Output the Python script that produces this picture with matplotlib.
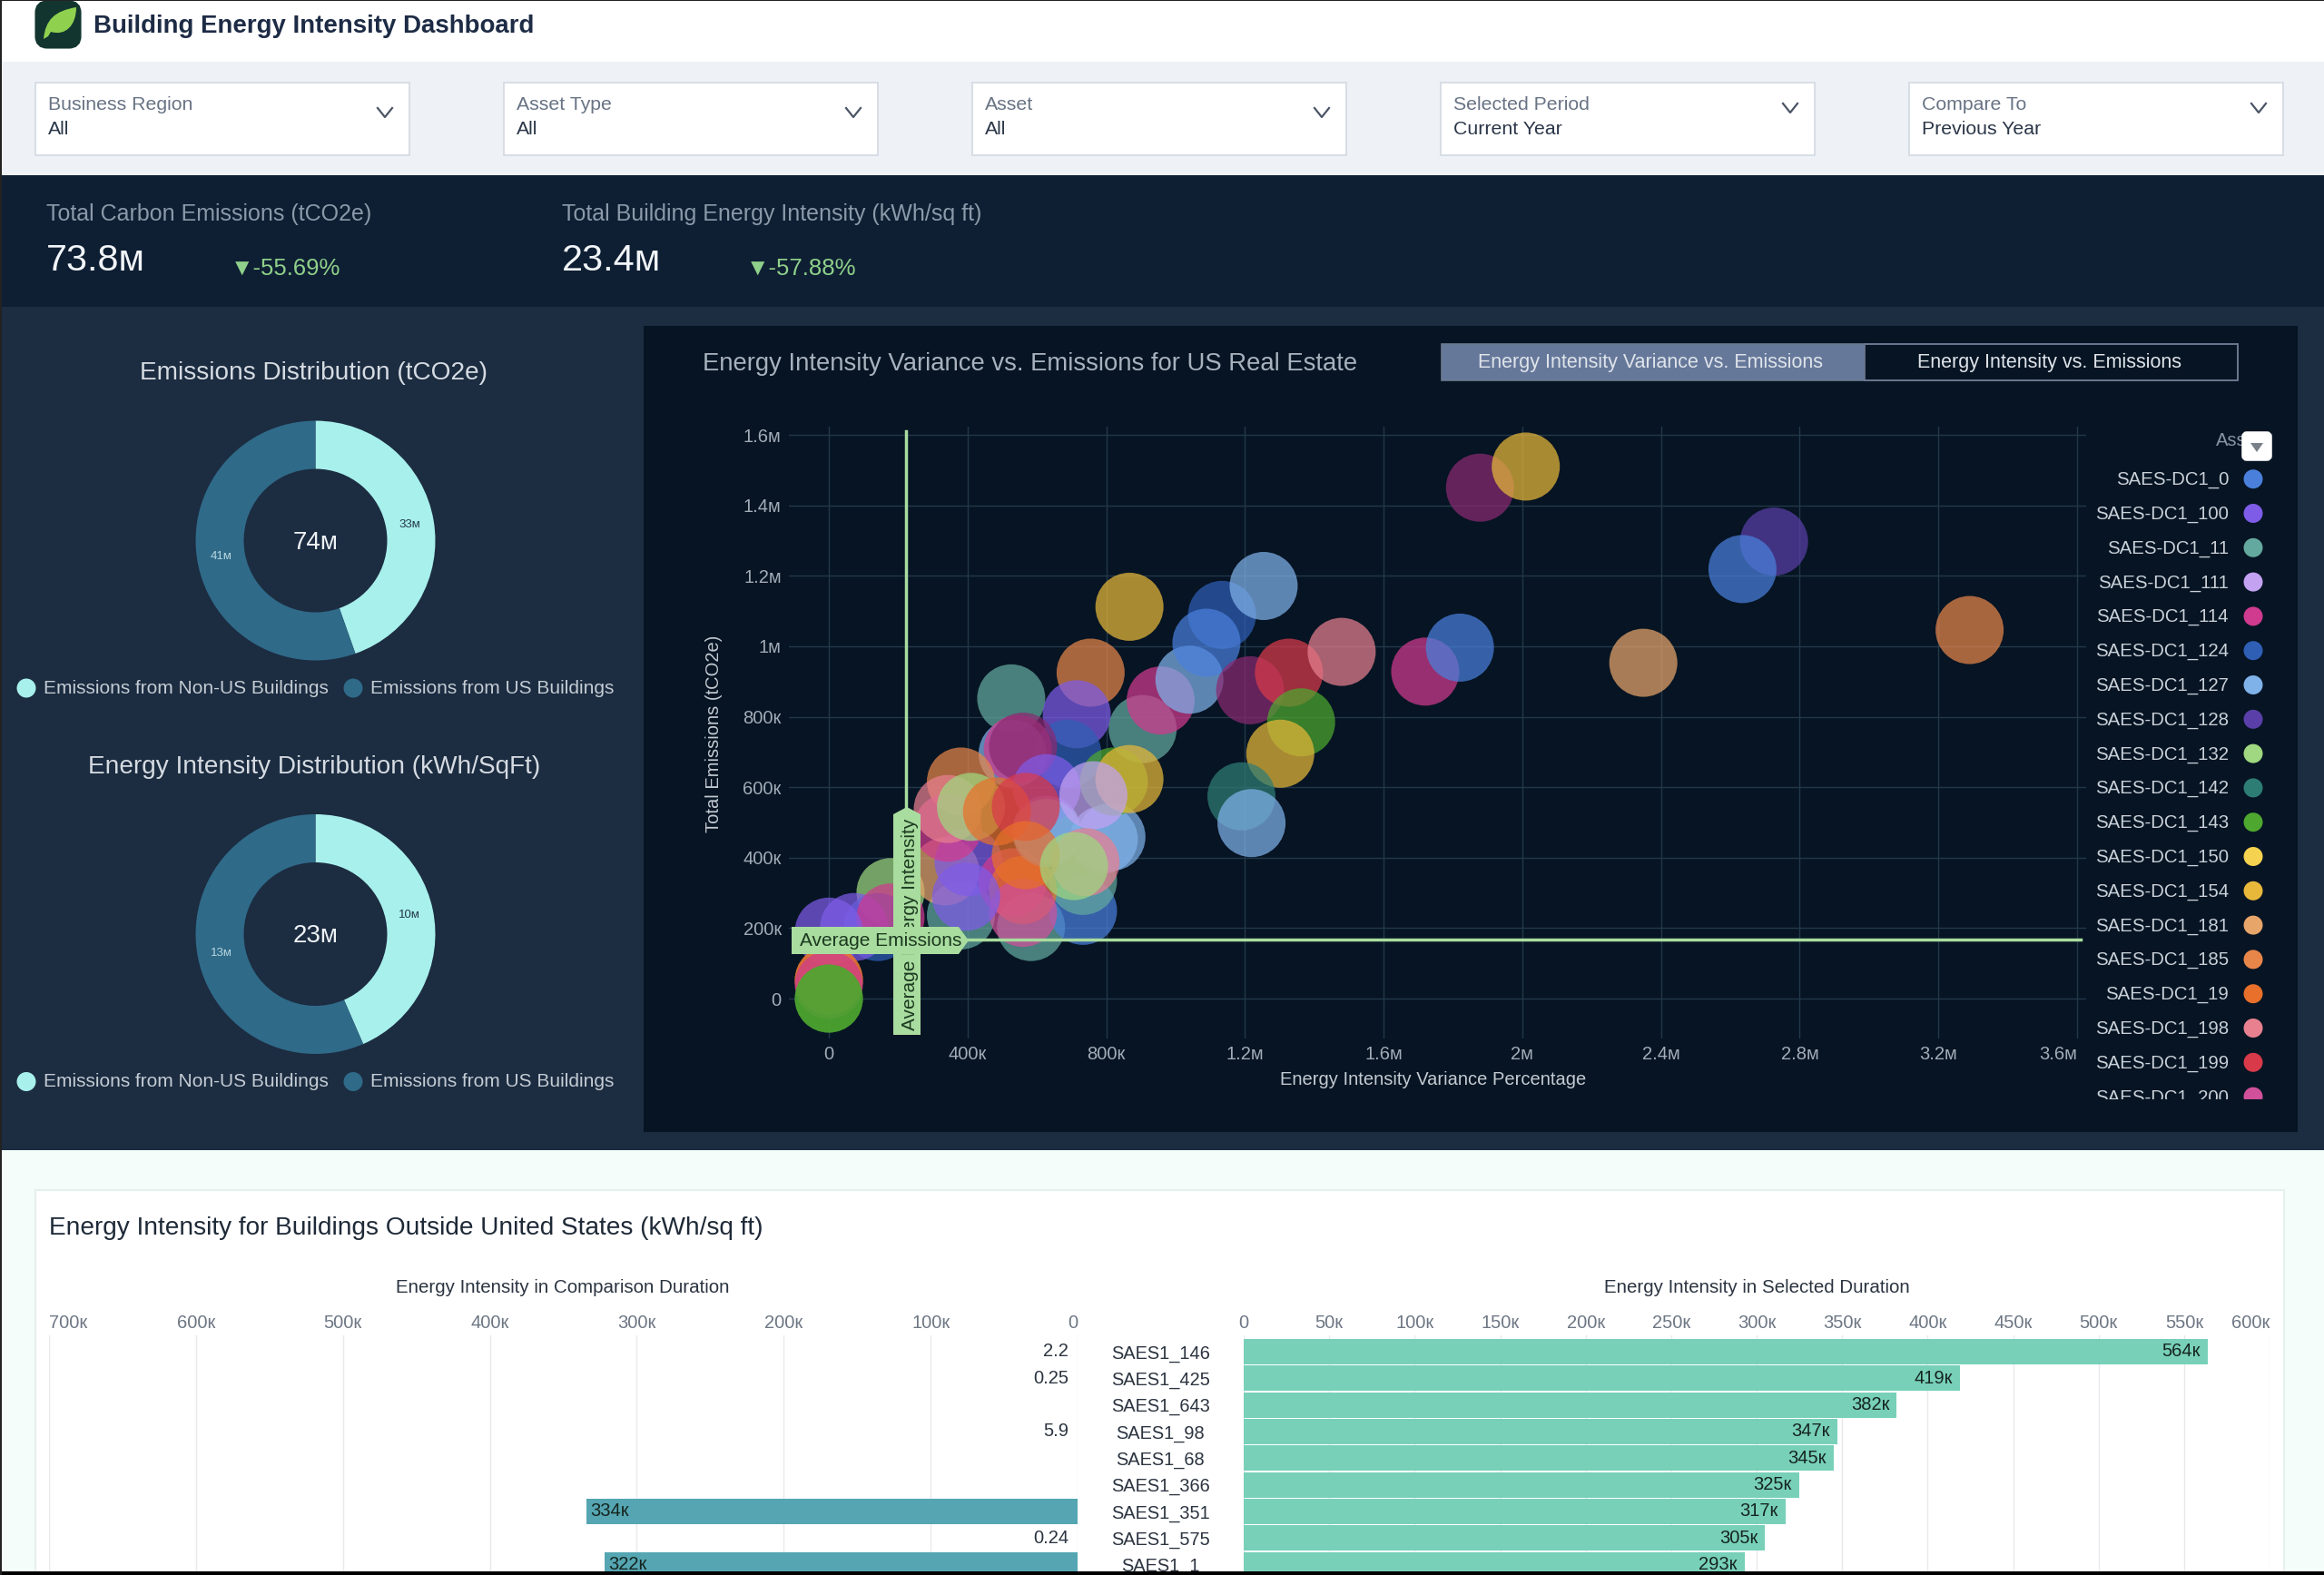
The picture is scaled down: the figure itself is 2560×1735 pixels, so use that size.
import matplotlib
matplotlib.use("Agg")
import matplotlib.pyplot as plt
from matplotlib.patches import Rectangle, Circle, FancyBboxPatch, Polygon, PathPatch
from matplotlib.path import Path
from matplotlib.ticker import FixedLocator, FixedFormatter

plt.rcParams['font.family'] = ['Liberation Sans', 'DejaVu Sans']

W, H = 2560, 1735

# ---------- data ----------
legend_assets = ['SAES-DC1_0', 'SAES-DC1_100', 'SAES-DC1_11', 'SAES-DC1_111', 'SAES-DC1_114',
                 'SAES-DC1_124', 'SAES-DC1_127', 'SAES-DC1_128', 'SAES-DC1_132', 'SAES-DC1_142',
                 'SAES-DC1_143', 'SAES-DC1_150', 'SAES-DC1_154', 'SAES-DC1_181', 'SAES-DC1_185',
                 'SAES-DC1_19', 'SAES-DC1_198', 'SAES-DC1_199', 'SAES-DC1_200']
legend_colors = ['#4a80dc', '#7e5ce8', '#64a99f', '#c3a2f2', '#d03a8f',
                 '#2f5fb5', '#80b2ea', '#5a3fa8', '#9fd880', '#2e7d74',
                 '#4ea82f', '#f5d24f', '#e8b83a', '#e8a56a', '#e8864a',
                 '#e8702a', '#e88090', '#d93a4a', '#d0509a']
below_fold_color = '#8a2a72'   # an asset further down the scrolled legend

bubble_asset = [11, 0, 11, 132, 124, 100, 114, 100, 11,
                127, 127, 181, 100, 114, 19, 200,
                11, 185, 100, 124, 127, 114, 'x', 11, 114, 127, 124, 0, 127, 127,
                143, 154, 100, 185, 114, 198, 132, 127, 19, 199, 111, 198, 19, 132, 100,
                'x', 199, 198, 143, 154, 142, 127, 114, 0, 154, 185, 128, 0, 'x', 154,
                181, 185, 19, 114, 143, 143]
bubble_x = [.583, .733, .381, .178, .141, .073, .178, 0, .733,
            .815, .793, .336, .403, .530, .560, .560,
            .526, .755, .715, .688, .530, .545, .560, .905, .957, 1.040, 1.134, 1.089, 1.254,
            .628, .822, .867, .628, .381, .343, .343, .410, .628, .485, .568, .763, .740, .568, .707, .396,
            1.215, 1.327, 1.479, 1.362, 1.302, 1.190, 1.219, 1.720, 1.820, .867, 3.290, 2.726, 2.635, 1.878, 2.010,
            2.349, 0, 0, 0, 0, 0]
bubble_y = [.203, .249, .236, .302, .203, .203, .230, .190, .334,
            .459, .452, .361, .387, .330, .308, .243,
            .852, .925, .807, .695, .695, .708, .715, .765, .846, .905, 1.089, 1.010, 1.171,
            .479, .616, .623, .597, .616, .485, .538, .544, .470, .531, .544, .577, .387, .407, .376, .289,
            .875, .925, .984, .784, .695, .574, .498, .928, .996, 1.112, 1.046, 1.297, 1.219, 1.450, 1.510,
            .953, .052, .052, .039, 0, 0]
avg_variance = 0.223e6
avg_emissions = 0.1666e6

x_ticks = [0, 400e3, 800e3, 1.2e6, 1.6e6, 2e6, 2.4e6, 2.8e6, 3.2e6, 3.6e6]
x_tick_labels = ['0', '400к', '800к', '1.2м', '1.6м', '2м', '2.4м', '2.8м', '3.2м', '3.6м']
y_ticks = [0, 200e3, 400e3, 600e3, 800e3, 1e6, 1.2e6, 1.4e6, 1.6e6]
y_tick_labels = ['0', '200к', '400к', '600к', '800к', '1м', '1.2м', '1.4м', '1.6м']

donut_emissions = [33, 41]
donut_emissions_labels = ['33м', '41м']
donut_intensity = [10, 13]
donut_intensity_labels = ['10м', '13м']
donut_colors = ['#a8f0ec', '#2f6a88']

buildings = ['SAES1_146', 'SAES1_425', 'SAES1_643', 'SAES1_98', 'SAES1_68',
             'SAES1_366', 'SAES1_351', 'SAES1_575', 'SAES1_1']
selected_vals = [564e3, 419e3, 382e3, 347e3, 345e3, 325e3, 317e3, 305e3, 293e3]
selected_labels = ['564к', '419к', '382к', '347к', '345к', '325к', '317к', '305к', '293к']
comparison_vals = [2.2, 0.25, 0, 5.9, 0, 0, 334e3, 0.24, 322e3]
comparison_labels = ['2.2', '0.25', '', '5.9', '', '', '334к', '0.24', '322к']
left_ticks = [700e3, 600e3, 500e3, 400e3, 300e3, 200e3, 100e3, 0]
left_tick_labels = ['700к', '600к', '500к', '400к', '300к', '200к', '100к', '0']
right_ticks = [0, 50e3, 100e3, 150e3, 200e3, 250e3, 300e3, 350e3, 400e3, 450e3, 500e3, 550e3, 600e3]
right_tick_labels = ['0', '50к', '100к', '150к', '200к', '250к', '300к', '350к', '400к', '450к', '500к', '550к', '600к']

filters = [('Business Region', 'All'), ('Asset Type', 'All'), ('Asset', 'All'),
           ('Selected Period', 'Current Year'), ('Compare To', 'Previous Year')]
kpis = [('Total Carbon Emissions (tCO2e)', '73.8м', '▼-55.69%'),
        ('Total Building Energy Intensity (kWh/sq ft)', '23.4м', '▼-57.88%')]

# ---------- helpers ----------
fig = plt.figure(figsize=(W / 100, H / 100), dpi=100, facecolor='white')


def axes_px(x0, y0, x1, y1, **kw):
    return fig.add_axes([x0 / W, 1 - y1 / H, (x1 - x0) / W, (y1 - y0) / H], **kw)


def overlay(z):
    a = fig.add_axes([0, 0, 1, 1], zorder=z)
    a.set_xlim(0, W)
    a.set_ylim(H, 0)
    a.axis('off')
    a.patch.set_alpha(0)
    return a


bg = overlay(0)
fg = overlay(10)


def rect(a, x0, y0, x1, y1, fc, ec='none', lw=0, z=1):
    a.add_patch(Rectangle((x0, y0), x1 - x0, y1 - y0, fc=fc, ec=ec, lw=lw, zorder=z))


def txt(a, x, y, s, size, color, ha='left', va='center', **kw):
    return a.text(x, y + 2, s, fontsize=size, color=color, ha=ha, va=va, **kw)


# ---------- chrome ----------
rect(bg, 0, 0, W, 68, '#ffffff')
rect(bg, 0, 68, W, 193, '#eef1f6')
rect(bg, 0, 193, W, 338, '#0e1f33')
rect(bg, 0, 338, W, 1267, '#1c2c41')
rect(bg, 709, 359, 2531, 1247, '#061423', z=2)
rect(bg, 0, 1267, W, H, '#f4fdf9')
rect(bg, 39, 1311, 2516, H, '#ffffff', ec='#e6f0ec', lw=1.5, z=2)

# icon
bg.add_patch(FancyBboxPatch((44, 6), 40, 42, boxstyle='round,pad=0,rounding_size=8',
                            fc='#12362f', ec='#12362f', lw=8, zorder=3))
leaf = Path([(48, 43), (50, 22), (60, 12), (84, 8), (84, 28), (72, 40), (56, 35), (53, 40), (48, 43)],
            [Path.MOVETO, Path.CURVE4, Path.CURVE4, Path.CURVE4, Path.CURVE4, Path.CURVE4, Path.CURVE4,
             Path.LINETO, Path.LINETO])
bg.add_patch(PathPatch(leaf, fc='#8fd14f', ec='none', zorder=4))
txt(bg, 103, 27, 'Building Energy Intensity Dashboard', 19.9, '#1d2b45', fontweight='bold')

# filters
box_x = [39, 555, 1071, 1587, 2103]
for (lab, val), x0 in zip(filters, box_x):
    rect(bg, x0, 91, x0 + 412, 171, '#ffffff', ec='#d3d9e2', lw=1.2, z=2)
    txt(bg, x0 + 14, 113.5, lab, 15.3, '#687384')
    txt(bg, x0 + 14, 140.5, val, 15.3, '#2b3648')
    cy = 124 if x0 < 1500 else 119
    cx = x0 + 385
    bg.plot([cx - 8, cx, cx + 8], [cy - 5, cy + 5, cy - 5], color='#4b5566', lw=1.6, zorder=3)

# KPI
for (lab, val, delta), x0, dx in zip(kpis, (51, 619), (254, 822)):
    txt(bg, x0, 233.5, lab, 18, '#8b99a9', zorder=3)
    txt(bg, x0, 285.5, val, 29.8, '#f2f5f8', zorder=3)
    txt(bg, dx, 294, delta, 18.5, '#8fd08a', zorder=3)

# ---------- donuts ----------
for cy, vals, labs, title, centre in ((595.5, donut_emissions, donut_emissions_labels,
                                       'Emissions Distribution (tCO2e)', '74м'),
                                      (1029, donut_intensity, donut_intensity_labels,
                                       'Energy Intensity Distribution (kWh/SqFt)', '23м')):
    ax = axes_px(347.5 - 132, cy - 132, 347.5 + 132, cy + 132, zorder=3)
    wedges, texts = ax.pie(vals, colors=donut_colors, startangle=90, counterclock=False, radius=1,
                           wedgeprops=dict(width=53 / 132, lw=0), labels=labs, labeldistance=0.8)
    ax.set_xlim(-1, 1)
    ax.set_ylim(-1, 1)
    for t, c in zip(texts, ('#23384a', '#b9d8e2')):
        t.set_ha('center')
        t.set_va('center')
        t.set_fontsize(9.5)
        t.set_color(c)
    txt(bg, 347.5, cy, centre, 20, '#eef2f5', ha='center', zorder=3)
    txt(bg, 346, cy - 186.5, title, 20.2, '#d5dbe1', ha='center', zorder=3)
    ly = cy + 160.5
    bg.add_patch(Circle((29, ly + 2), 10.5, fc=donut_colors[0], ec='none', zorder=3))
    txt(bg, 48, ly, 'Emissions from Non-US Buildings', 15, '#c4ccd4', zorder=3)
    bg.add_patch(Circle((389, ly + 2), 10.5, fc=donut_colors[1], ec='none', zorder=3))
    txt(bg, 408, ly, 'Emissions from US Buildings', 15, '#c4ccd4', zorder=3)

# ---------- scatter ----------
PX_X = (2288 - 913) / 3.6e6
PX_Y = (1100 - 479) / 1.6e6
ax = axes_px(869, 470, 2298, 1144, zorder=4)
ax.set_facecolor('none')
ax.set_xlim((869 - 913) / PX_X, (2298 - 913) / PX_X)
ax.set_ylim((1100 - 1144) / PX_Y, (1100 - 470) / PX_Y)
for s in ax.spines.values():
    s.set_visible(False)
ax.set_axisbelow(True)
ax.grid(True, color='#22384a', lw=1)
ax.xaxis.set_major_locator(FixedLocator(x_ticks))
ax.xaxis.set_major_formatter(FixedFormatter(x_tick_labels))
ax.yaxis.set_major_locator(FixedLocator(y_ticks))
ax.yaxis.set_major_formatter(FixedFormatter(y_tick_labels))
ax.tick_params(length=0, labelsize=14.5, labelcolor='#a3adb8', pad=6)
ax.get_xticklabels()[-1].set_ha('right')
color_of = dict(zip(legend_assets, legend_colors))
color_of['SAES-DC1_x'] = below_fold_color
bc = [color_of[f'SAES-DC1_{a}'] for a in bubble_asset]
ax.scatter([v * 1e6 for v in bubble_x], [v * 1e6 for v in bubble_y], s=54 ** 2, c=bc, alpha=0.72,
           linewidths=0, zorder=3, clip_on=False)
ax.plot([avg_variance, avg_variance], [avg_emissions, 1.61e6], color='#a9dc9f', lw=2.5, zorder=4)
ax.plot([avg_variance, 3.61e6], [avg_emissions, avg_emissions], color='#a9dc9f', lw=2.5, zorder=4)

txt(fg, 787, 806, 'Total Emissions (tCO2e)', 14.5, '#c3cad2', ha='center', rotation=90)
txt(fg, 1579, 1187, 'Energy Intensity Variance Percentage', 14.5, '#c3cad2', ha='center')
txt(bg, 774, 398.5, 'Energy Intensity Variance vs. Emissions for US Real Estate', 19.8, '#a7b2be', zorder=3)

# average tags
fg.add_patch(Polygon([(984, 897), (999, 889), (1014, 897), (1014, 1140), (984, 1140)], fc='#a9dc9f', ec='none', zorder=1))
txt(fg, 1002, 1016, 'Average Energy Intensity', 15, '#1c3a20', ha='center', rotation=90, zorder=2)
fg.add_patch(Polygon([(872, 1021), (1056, 1021), (1067, 1036), (1056, 1051), (872, 1051)], fc='#a9dc9f', ec='none', zorder=3))
txt(fg, 881, 1034, 'Average Emissions', 15, '#1c3a20', zorder=4)

# toggle
rect(bg, 1588, 379, 2054, 419, '#66789a', z=3)
rect(bg, 2054, 379, 2465, 419, '#061423', ec='#6a7a90', lw=1.2, z=3)
rect(bg, 1588, 379, 2465, 419, 'none', ec='#6a7a90', lw=1.2, z=3)
txt(bg, 1818, 397, 'Energy Intensity Variance vs. Emissions', 15.5, '#dfe4ea', ha='center', zorder=4)
txt(bg, 2258, 397, 'Energy Intensity vs. Emissions', 15.5, '#dfe4ea', ha='center', zorder=4)

# legend
clip = Rectangle((2290, 470), 240, 741, transform=fg.transData)
txt(fg, 2441, 483, 'Asset', 14.5, '#8895a3', zorder=1)
for i, (name, col) in enumerate(zip(legend_assets, legend_colors)):
    y = 527.7 + 37.8 * i
    t = txt(fg, 2455, y - 1, name, 14.7, '#c9d0d8', ha='right', zorder=1, clip_on=True)
    t.set_clip_path(clip)
    c = Circle((2482, y), 10.5, fc=col, ec='none', zorder=1)
    fg.add_patch(c)
    c.set_clip_path(clip)
fg.add_patch(FancyBboxPatch((2472, 478), 28, 27, boxstyle='round,pad=0,rounding_size=3', fc='white', ec='white', lw=4, zorder=2))
fg.add_patch(Polygon([(2479, 488), (2493, 488), (2486, 498)], fc='#7a8088', ec='none', zorder=3))

# ---------- bottom charts ----------
txt(bg, 54, 1351, 'Energy Intensity for Buildings Outside United States (kWh/sq ft)', 20.2, '#1f2a38', zorder=3)
txt(bg, 620, 1416, 'Energy Intensity in Comparison Duration', 14.8, '#2b3440', ha='center', zorder=3)
txt(bg, 1935, 1416, 'Energy Intensity in Selected Duration', 14.8, '#2b3440', ha='center', zorder=3)

Y_TOP, Y_BOT, ROW0, PITCH = 1471, 1731, 1489, 29.33
ylim = ((Y_BOT - ROW0) / PITCH, (Y_TOP - ROW0) / PITCH)
rows = list(range(len(buildings)))

axl = axes_px(53.9, Y_TOP, 1187, Y_BOT, zorder=3)
axr = axes_px(1370, Y_TOP, 2500, Y_BOT, zorder=3)
for a in (axl, axr):
    a.set_facecolor('none')
    a.set_ylim(*ylim)
    for s in a.spines.values():
        s.set_visible(False)
    a.xaxis.tick_top()
    a.set_axisbelow(True)
    a.grid(True, axis='x', color='#e7eaed', lw=1)
axl.set_xlim(700e3, 0)
axr.set_xlim(0, 600e3)

axl.xaxis.set_major_locator(FixedLocator(left_ticks))
axl.xaxis.set_major_formatter(FixedFormatter(left_tick_labels))
axr.xaxis.set_major_locator(FixedLocator(right_ticks))
axr.xaxis.set_major_formatter(FixedFormatter(right_tick_labels))
axl.tick_params(axis='x', length=0, labelsize=14.5, labelcolor='#6d7784', pad=3)
axr.tick_params(axis='x', length=0, labelsize=14.5, labelcolor='#6d7784', pad=3)
axl.set_yticks([])
axl.get_xticklabels()[0].set_ha('left')
axl.get_xticklabels()[-1].set_ha('right')
axr.get_xticklabels()[-1].set_ha('right')

axr.set_yticks(rows)
axr.set_yticklabels(buildings)
axr.tick_params(axis='y', length=0, labelsize=14.4, labelcolor='#2b3440', pad=66)
for t in axr.get_yticklabels():
    t.set_ha('center')

axr.barh(rows, selected_vals, height=0.945, color='#78d0b9')
axl.barh(rows, comparison_vals, height=0.945, color='#55a6b2')
for r, v, s in zip(rows, selected_vals, selected_labels):
    axr.annotate(s, (v, r), xytext=(-6, 0), textcoords='offset points', ha='right', va='center',
                 fontsize=14.5, color='#15241f')
for r, v, s in zip(rows, comparison_vals, comparison_labels):
    if not s:
        continue
    if v > 1000:
        axl.annotate(s, (v, r), xytext=(3, 0), textcoords='offset points', ha='left', va='center',
                     fontsize=14.5, color='#15241f')
    else:
        axl.annotate(s, (0, r), xytext=(-7, 0), textcoords='offset points', ha='right', va='center',
                     fontsize=14.5, color='#2b3440', annotation_clip=False)

# screenshot edges
rect(fg, 0, 1731, W, H, '#000000', z=20)
rect(fg, 0, 0, W, 1.5, '#222222', z=20)
rect(fg, 0, 0, 1.5, H, '#222222', z=20)

fig.savefig('out.png', dpi=100)
